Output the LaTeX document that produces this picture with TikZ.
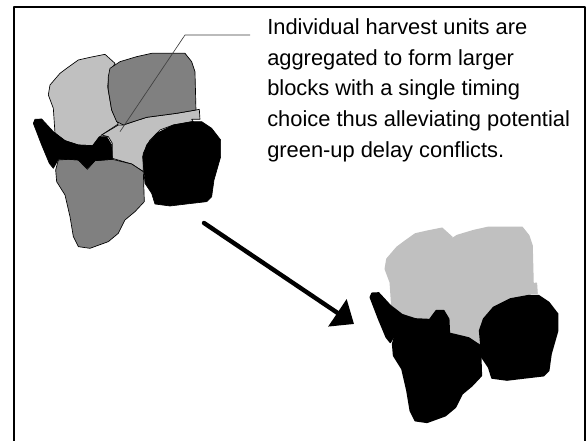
\documentclass[tikz,border=0pt]{standalone}
\usepackage{fontspec}
\setmainfont{Liberation Sans}
\usepackage{tikz}
\usetikzlibrary{arrows.meta,positioning}
\definecolor{palegray}{HTML}{C0C0C0}
\definecolor{midgray}{HTML}{808080}
% outlines of the harvest units
\newcommand{\unitnorthwest}{(285,103) -- (315,130) -- (298,160) -- (293,200) -- (305,270) -- (325,312) -- (275,345) -- (248,377) -- (205,375) -- (165,362) -- (135,340) -- (130,265) -- (115,225) -- (120,195) -- (150,160) -- (170,145) -- (205,120) -- (240,112) -- cycle}
\newcommand{\unitnortheast}{(300,145) -- (330,125) -- (380,110) -- (425,100) -- (525,100) -- (545,125) -- (555,155) -- (558,270) -- (500,280) -- (410,292) -- (370,305) -- (340,315) -- (320,305) -- (305,270) -- (295,210) -- (295,170) -- cycle}
\newcommand{\unitcentre}{(558,270) -- (568,268) -- (570,298) -- (545,298) -- (550,305) -- (490,315) -- (450,330) -- (420,360) -- (400,400) -- (400,455) -- (365,432) -- (307,415) -- (307,370) -- (295,350) -- (275,345) -- (325,315) -- (340,315) -- (370,305) -- (410,292) -- (500,280) -- cycle}
\newcommand{\unitbow}{(70,310) -- (75,298) -- (95,297) -- (130,335) -- (165,362) -- (205,375) -- (248,377) -- (268,350) -- (290,350) -- (305,375) -- (307,418) -- (255,422) -- (232,445) -- (205,420) -- (175,418) -- (145,418) -- (130,445) -- (118,430) -- (95,375) -- cycle}
\newcommand{\unitsouth}{(145,420) -- (175,418) -- (205,420) -- (232,448) -- (255,422) -- (307,418) -- (365,432) -- (400,455) -- (403,545) -- (375,575) -- (345,600) -- (325,640) -- (295,665) -- (240,685) -- (205,680) -- (190,650) -- (180,590) -- (165,525) -- (140,485) -- (137,450) -- cycle}
\newcommand{\uniteast}{(545,305) -- (575,305) -- (605,325) -- (632,360) -- (632,410) -- (612,480) -- (605,530) -- (590,545) -- (530,552) -- (480,558) -- (435,552) -- (425,520) -- (405,490) -- (398,410) -- (410,375) -- (440,340) -- (490,315) -- cycle}
\begin{document}
\begin{tikzpicture}[x=0.75pt,y=-0.75pt,line join=round]
  \tikzset{unit/.style={draw=black,line width=0.5pt}}
  \tikzset{merged/.style={draw=#1,fill=#1,line width=1.2pt}}
  \tikzset{frameline/.style={draw=black,line width=1.5pt}}
  \tikzset{leader/.style={draw=black!75,line width=0.5pt}}
  \useasboundingbox (0,0) rectangle (588,441);
  \fill[white] (0,0) rectangle (588,441);
  \draw[frameline] (14,441) -- (14,7) -- (585,7) -- (585,441);
  % before aggregation
  \begin{scope}[shift={(10,20)},scale=0.3333]
    \fill[unit,fill=palegray] \unitnorthwest;
    \fill[unit,fill=palegray] \unitcentre;
    \fill[unit,fill=midgray] \unitnortheast;
    \fill[unit,fill=midgray] \unitsouth;
    \fill[unit,fill=black] \unitbow;
    \fill[unit,fill=black] \uniteast;
    \coordinate (target) at (330,335);
  \end{scope}
  % after aggregation
  \begin{scope}[shift={(347,194)},scale=0.3333]
    \path[merged=palegray] \unitnorthwest;
    \path[merged=palegray] \unitcentre;
    \path[merged=palegray] \unitnortheast;
    \path[merged=black] \unitsouth;
    \path[merged=black] \unitbow;
    \path[merged=black] \uniteast;
  \end{scope}
  \node[anchor=north west,inner sep=0pt,align=left,font=\fontsize{16.4}{23.2}\selectfont] (note) at (267,18)
    {Individual harvest units are\\aggregated to form larger\\blocks with a single timing\\choice thus alleviating potential\\green-up delay conflicts.};
  \coordinate (bend) at (185,35);
  \coordinate (leaderend) at (250,35);
  \draw[leader] (target) -- (bend) -- (leaderend);
  \coordinate (arrowstart) at (204,223);
  \coordinate (arrowtip) at (354,324);
  \draw[line width=3.3pt,line cap=round,-{Triangle[length=15pt,width=24pt]}] (arrowstart) -- (arrowtip);
\end{tikzpicture}
\end{document}
